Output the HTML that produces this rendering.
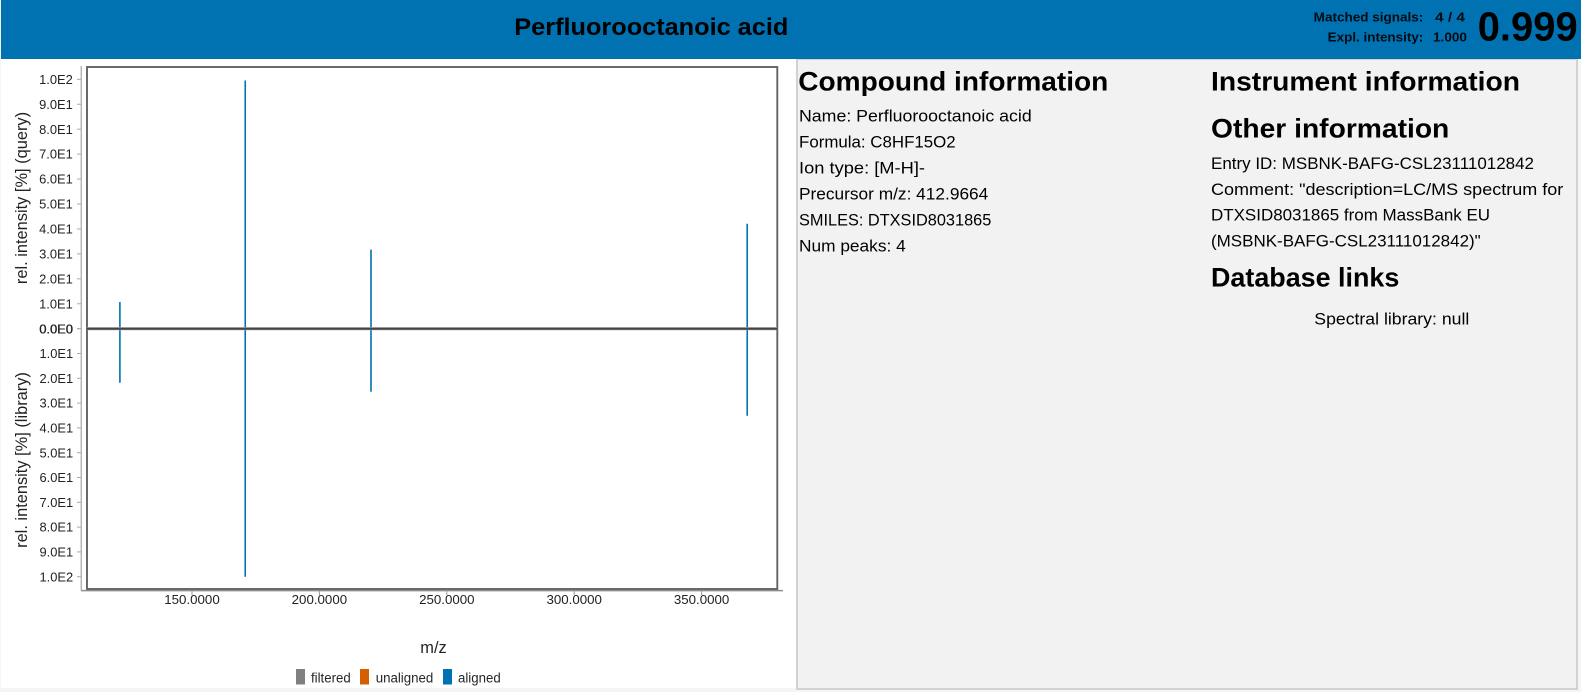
<!DOCTYPE html>
<html lang="en">
<head>
<meta charset="utf-8">
<title>Perfluorooctanoic acid</title>
<style>
html,body{margin:0;padding:0;width:1581px;height:692px;overflow:hidden;background:#f5f5f5;font-family:"Liberation Sans",sans-serif;}
#left-panel{position:absolute;left:1px;top:59px;width:796px;height:629px;background:#fff;}
#right-panel{position:absolute;left:796px;top:59px;width:778px;height:628px;background:#f2f2f2;border:solid #d2d2d2;border-width:1px 2px 2px 2px;}
#header{position:absolute;left:1px;top:0;width:1580px;height:59px;background:#0072b2;}
#stage{position:absolute;left:0;top:0;}
.h{font-weight:bold;font-size:27px;fill:#000;}
.t{font-size:17px;fill:#000;}
.m{font-weight:bold;font-size:13px;fill:#020a12;}
</style>
</head>
<body>
<div id="left-panel"></div>
<div id="right-panel"></div>
<div id="header"></div>
<svg id="stage" width="1581" height="692" viewBox="0 0 1581 692" xmlns="http://www.w3.org/2000/svg">
  <text x="514.3" y="35" font-size="24" font-weight="bold" fill="#000" textLength="274" lengthAdjust="spacingAndGlyphs">Perfluorooctanoic acid</text>
  <text class="m" x="1313.7" y="21.3" textLength="109.6" lengthAdjust="spacingAndGlyphs">Matched signals:</text>
  <text class="m" x="1435" y="21.3" textLength="30" lengthAdjust="spacingAndGlyphs">4 / 4</text>
  <text class="m" x="1327.7" y="41.7" textLength="95.6" lengthAdjust="spacingAndGlyphs">Expl. intensity:</text>
  <text class="m" x="1433" y="41.7" textLength="34" lengthAdjust="spacingAndGlyphs">1.000</text>
  <text x="1477.7" y="40.7" font-size="41" font-weight="bold" fill="#000" textLength="100" lengthAdjust="spacingAndGlyphs">0.999</text>

  <text class="h" x="798.3" y="90.7" textLength="310" lengthAdjust="spacingAndGlyphs">Compound information</text>
  <text class="t" x="799" y="121.7" textLength="232.7" lengthAdjust="spacingAndGlyphs">Name: Perfluorooctanoic acid</text>
  <text class="t" x="799" y="147.7" textLength="156.7" lengthAdjust="spacingAndGlyphs">Formula: C8HF15O2</text>
  <text class="t" x="799" y="173.7" textLength="126" lengthAdjust="spacingAndGlyphs">Ion type: [M-H]-</text>
  <text class="t" x="799" y="199.7" textLength="189.3" lengthAdjust="spacingAndGlyphs">Precursor m/z: 412.9664</text>
  <text class="t" x="799" y="225.7" textLength="192.3" lengthAdjust="spacingAndGlyphs">SMILES: DTXSID8031865</text>
  <text class="t" x="799" y="251.7" textLength="106.7" lengthAdjust="spacingAndGlyphs">Num peaks: 4</text>

  <text class="h" x="1211" y="90.7" textLength="309" lengthAdjust="spacingAndGlyphs">Instrument information</text>
  <text class="h" x="1211" y="137.7" textLength="238.3" lengthAdjust="spacingAndGlyphs">Other information</text>
  <text class="t" x="1211" y="169" textLength="323" lengthAdjust="spacingAndGlyphs">Entry ID: MSBNK-BAFG-CSL23111012842</text>
  <text class="t" x="1211" y="195" textLength="352.3" lengthAdjust="spacingAndGlyphs">Comment: "description=LC/MS spectrum for</text>
  <text class="t" x="1211" y="220.7" textLength="279" lengthAdjust="spacingAndGlyphs">DTXSID8031865 from MassBank EU</text>
  <text class="t" x="1211" y="246.7" textLength="269.7" lengthAdjust="spacingAndGlyphs">(MSBNK-BAFG-CSL23111012842)"</text>
  <text class="h" x="1211" y="286.7" textLength="188.3" lengthAdjust="spacingAndGlyphs">Database links</text>
  <text class="t" x="1314.3" y="324.3" textLength="155" lengthAdjust="spacingAndGlyphs">Spectral library: null</text>

  <g id="chart"></g>

  <rect x="296" y="669" width="9" height="15.5" fill="#808080"/>
  <text x="311" y="682.5" font-size="13.4" fill="#262626" textLength="39.7" lengthAdjust="spacingAndGlyphs">filtered</text>
  <rect x="360" y="669" width="9" height="15.5" fill="#d55e00"/>
  <text x="375.7" y="682.5" font-size="13.4" fill="#262626" textLength="57.6" lengthAdjust="spacingAndGlyphs">unaligned</text>
  <rect x="443" y="669" width="9" height="15.5" fill="#0072b2"/>
  <text x="458" y="682.5" font-size="13.4" fill="#262626" textLength="42.7" lengthAdjust="spacingAndGlyphs">aligned</text>
</svg>
<script>
var peakMz = [121.7, 170.9, 220.25, 367.9];
var queryIntensity = [10.7, 99.5, 31.7, 42.1];
var libraryIntensity = [21.8, 100, 25.4, 35.1];
var xTicks = [150, 200, 250, 300, 350];
var xTickLabels = ["150.0000", "200.0000", "250.0000", "300.0000", "350.0000"];
var queryTicks = [0, 10, 20, 30, 40, 50, 60, 70, 80, 90, 100];
var queryTickLabels = ["0.0E0", "1.0E1", "2.0E1", "3.0E1", "4.0E1", "5.0E1", "6.0E1", "7.0E1", "8.0E1", "9.0E1", "1.0E2"];
var libraryTicks = [0, 10, 20, 30, 40, 50, 60, 70, 80, 90, 100];
var libraryTickLabels = ["0.0E0", "1.0E1", "2.0E1", "3.0E1", "4.0E1", "5.0E1", "6.0E1", "7.0E1", "8.0E1", "9.0E1", "1.0E2"];

var NS = "http://www.w3.org/2000/svg";
var chart = document.getElementById("chart");
function xScale(v) { return 192 + (v - 150) * 2.548; }
function yQuery(v) { return 328.7 - v * 2.494; }
function yLibrary(v) { return 328.7 + v * 2.48; }
function make(tag, attrs) {
  var el = document.createElementNS(NS, tag);
  for (var k in attrs) el.setAttribute(k, attrs[k]);
  chart.appendChild(el);
  return el;
}
function line(x1, y1, x2, y2, stroke, width) {
  return make("line", {x1: x1, y1: y1, x2: x2, y2: y2, stroke: stroke, "stroke-width": width});
}
function label(x, y, text, anchor, size, fill) {
  var el = make("text", {x: x, y: y, "text-anchor": anchor, "font-size": size, fill: fill});
  el.textContent = text;
  return el;
}

var el;
el = line(81.3, 66, 81.3, 590.5, "#b5b5b5", 1.5);


el = line(81, 590.6, 783, 590.6, "#8f8f8f", 1.5);



queryTicks.forEach(function (t, i) {
  var y = yQuery(t);
  var tk = line(77, y, 81, y, "#aaa", 1);
  
  
  var lb = label(72.8, y + 4.6, queryTickLabels[i], "end", 12.9, "#222");
  
  
});
libraryTicks.forEach(function (t, i) {
  var y = yLibrary(t);
  var tk = line(77, y, 81, y, "#aaa", 1);
  
  
  var lb = label(73.2, y + 4.6, libraryTickLabels[i], "end", 12.9, "#222");
  
  
});
xTicks.forEach(function (t, i) {
  var x = xScale(t);
  var tk = line(x, 590.5, x, 595, "#999", 1);
  
  
  var lb = label(x, 604, xTickLabels[i], "middle", 13.3, "#222");
  
  
});

peakMz.forEach(function (mz, i) {
  var x = xScale(mz);
  var q = line(x, yQuery(queryIntensity[i]), x, yQuery(0), "#0072b2", 1.6);
  
  
  var l = line(x, yLibrary(0), x, yLibrary(libraryIntensity[i]), "#0072b2", 1.6);
  
  
});

el = make("rect", {x: 87, y: 67, width: 690.3, height: 522, fill: "none", stroke: "#626262", "stroke-width": 1.9});


el = line(87, 328.7, 777, 328.7, "#aaa", 3.2);


el = line(87, 328.7, 777, 328.7, "#454545", 2);



el = label(0, 0, "rel. intensity [%] (query)", "middle", 16.4, "#222");
el.setAttribute("transform", "translate(27,198) rotate(-90)");


el = label(0, 0, "rel. intensity [%] (library)", "middle", 16.4, "#222");
el.setAttribute("transform", "translate(27,460) rotate(-90)");


el = label(433.5, 653, "m/z", "middle", 16.4, "#222");


</script>
</body>
</html>
